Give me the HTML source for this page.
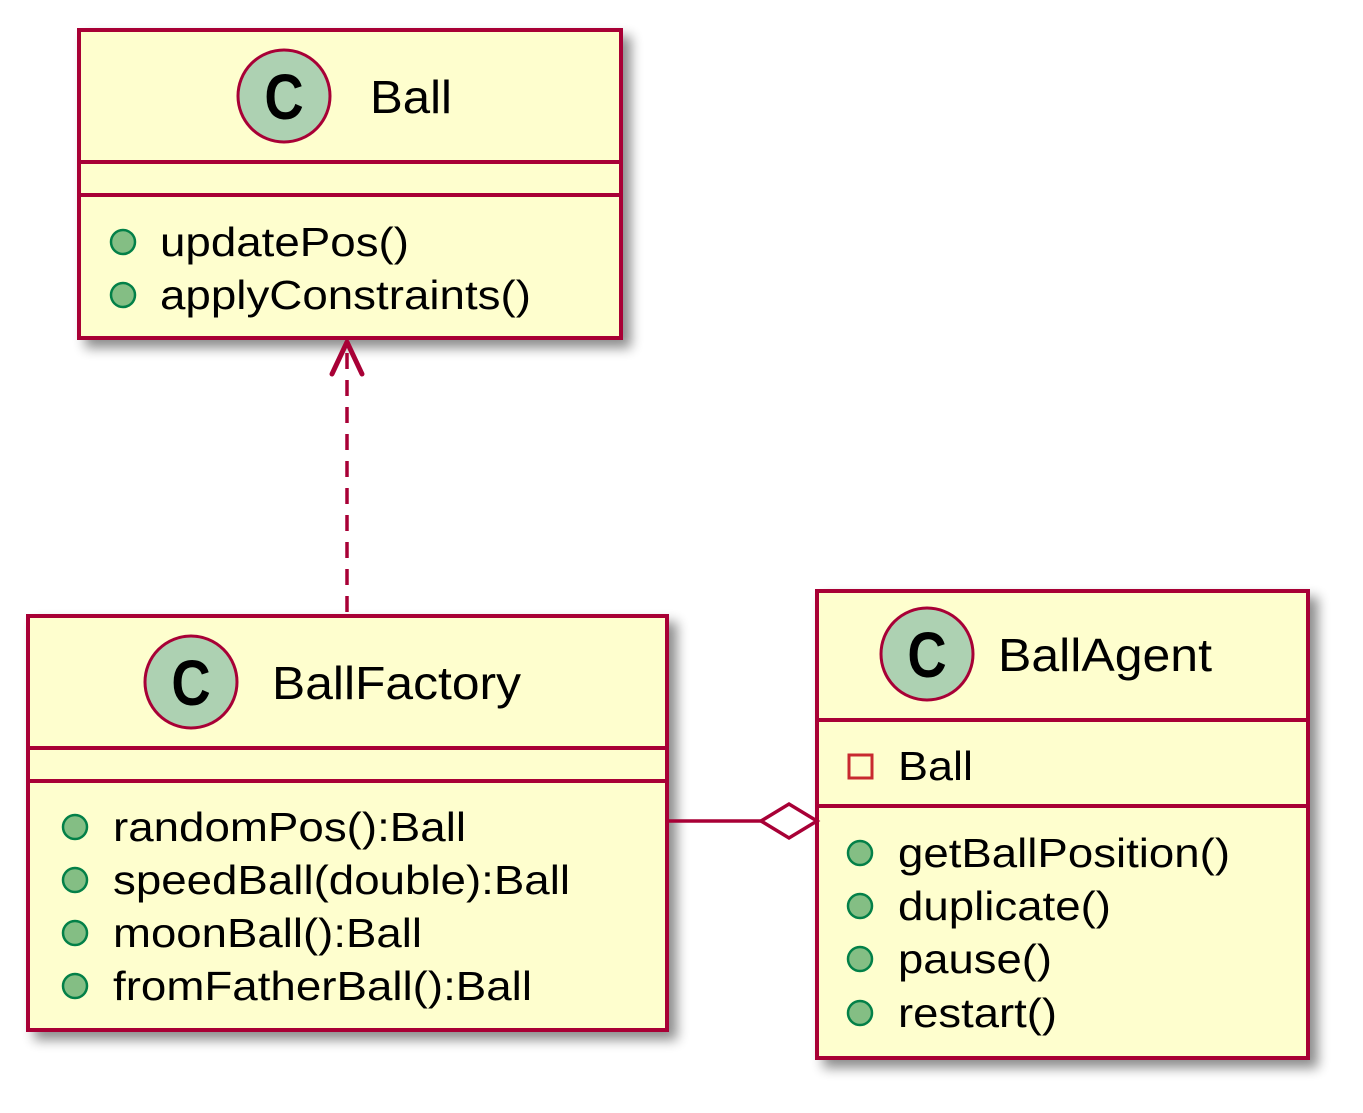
<!DOCTYPE html>
<html><head><meta charset="utf-8"><style>
html,body{margin:0;padding:0;background:#fff;}
svg{display:block;}
text{font-family:"Liberation Sans",sans-serif;fill:#000;}
</style></head><body>
<svg width="1363" height="1113" viewBox="0 0 1363 1113" xmlns="http://www.w3.org/2000/svg">
<defs>
<filter id="sh" x="-10%" y="-10%" width="130%" height="130%">
<feGaussianBlur in="SourceAlpha" stdDeviation="6"/>
<feOffset dx="8" dy="8"/>
<feComponentTransfer><feFuncA type="linear" slope="0.45"/></feComponentTransfer>
<feMerge><feMergeNode/><feMergeNode in="SourceGraphic"/></feMerge>
</filter>
</defs>
<g stroke="#A80036" stroke-width="4" fill="#FEFECE">
<rect x="79" y="30" width="542" height="308" filter="url(#sh)"/>
<rect x="28" y="616" width="639" height="414" filter="url(#sh)"/>
<rect x="817" y="591" width="491" height="467" filter="url(#sh)"/>
</g>
<g stroke="#A80036" stroke-width="4">
<line x1="79" y1="162" x2="621" y2="162"/><line x1="79" y1="195" x2="621" y2="195"/>
<line x1="28" y1="748" x2="667" y2="748"/><line x1="28" y1="781" x2="667" y2="781"/>
<line x1="817" y1="720" x2="1308" y2="720"/><line x1="817" y1="806" x2="1308" y2="806"/>
</g>
<g fill="#ADD1B2" stroke="#A80036" stroke-width="3">
<circle cx="284" cy="96" r="46"/><circle cx="191" cy="682" r="46"/><circle cx="927" cy="654" r="46"/>
</g>
<g font-size="64" font-weight="bold" text-anchor="middle">
<text x="284" y="119" transform="translate(284 0) scale(0.85 1) translate(-284 0)">C</text>
<text x="191" y="705" transform="translate(191 0) scale(0.85 1) translate(-191 0)">C</text>
<text x="927" y="677" transform="translate(927 0) scale(0.85 1) translate(-927 0)">C</text>
</g>
<g font-size="46">
<text x="370" y="113" textLength="82" lengthAdjust="spacingAndGlyphs">Ball</text>
<text x="272" y="699" textLength="249" lengthAdjust="spacingAndGlyphs">BallFactory</text>
<text x="998" y="671" textLength="214" lengthAdjust="spacingAndGlyphs">BallAgent</text>
</g>
<g fill="#84BE84" stroke="#038048" stroke-width="2.5">
<circle cx="123" cy="242" r="12"/><circle cx="123" cy="295" r="12"/>
<circle cx="75" cy="827" r="12"/><circle cx="75" cy="880" r="12"/><circle cx="75" cy="933" r="12"/><circle cx="75" cy="986" r="12"/>
<circle cx="860" cy="853" r="12"/><circle cx="860" cy="906" r="12"/><circle cx="860" cy="959" r="12"/><circle cx="860" cy="1013" r="12"/>
</g>
<rect x="849" y="755" width="23" height="23" fill="none" stroke="#C82930" stroke-width="3"/>
<g font-size="41">
<text x="160" y="256" textLength="249" lengthAdjust="spacingAndGlyphs">updatePos()</text>
<text x="160" y="309" textLength="371" lengthAdjust="spacingAndGlyphs">applyConstraints()</text>
<text x="113" y="841" textLength="353" lengthAdjust="spacingAndGlyphs">randomPos():Ball</text>
<text x="113" y="894" textLength="457" lengthAdjust="spacingAndGlyphs">speedBall(double):Ball</text>
<text x="113" y="947" textLength="309" lengthAdjust="spacingAndGlyphs">moonBall():Ball</text>
<text x="113" y="1000" textLength="419" lengthAdjust="spacingAndGlyphs">fromFatherBall():Ball</text>
<text x="898" y="780" textLength="75" lengthAdjust="spacingAndGlyphs">Ball</text>
<text x="898" y="867" textLength="332" lengthAdjust="spacingAndGlyphs">getBallPosition()</text>
<text x="898" y="920" textLength="213" lengthAdjust="spacingAndGlyphs">duplicate()</text>
<text x="898" y="973" textLength="154" lengthAdjust="spacingAndGlyphs">pause()</text>
<text x="898" y="1027" textLength="159" lengthAdjust="spacingAndGlyphs">restart()</text>
</g>
<line x1="347" y1="612" x2="347" y2="345" stroke="#A80036" stroke-width="3.5" stroke-dasharray="16,11"/>
<polyline points="332,374 347,342 362,374" fill="none" stroke="#A80036" stroke-width="5" stroke-linejoin="round" stroke-linecap="round"/>
<line x1="667" y1="821" x2="761" y2="821" stroke="#A80036" stroke-width="3.5"/>
<polygon points="761,821 789,804 817,821 789,838" fill="#fff" stroke="#A80036" stroke-width="3.5"/>
</svg>
</body></html>
